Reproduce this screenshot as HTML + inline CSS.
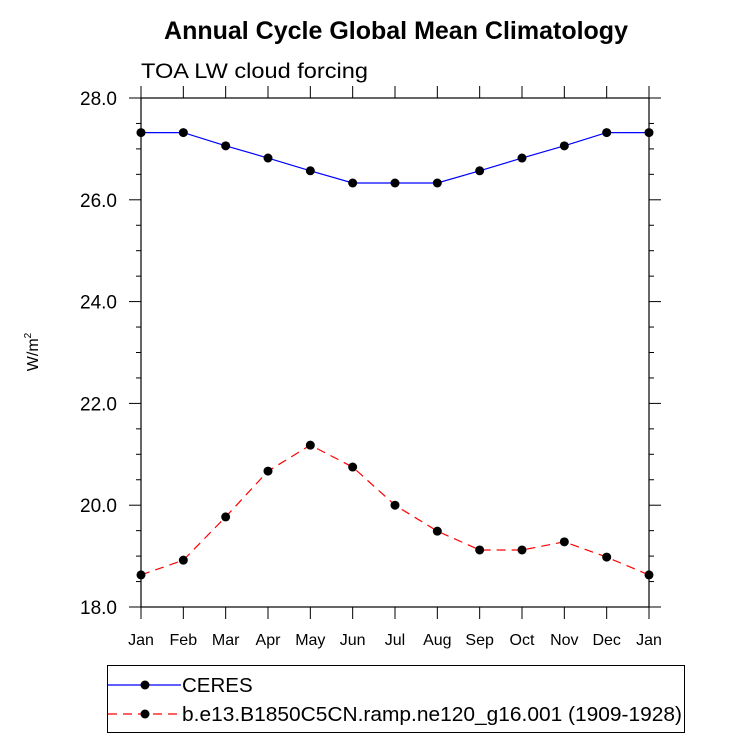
<!DOCTYPE html>
<html><head><meta charset="utf-8"><style>
body{margin:0;background:#fff;width:733px;height:739px;overflow:hidden}
svg text{font-family:"Liberation Sans",Arial,sans-serif}
</style></head><body>
<svg id="chart" width="733" height="739">
<text x="396" y="39" text-anchor="middle" font-size="25" font-weight="bold">Annual Cycle Global Mean Climatology</text>
<text x="141" y="78" font-size="21.5" textLength="227" lengthAdjust="spacingAndGlyphs">TOA LW cloud forcing</text>
<text transform="translate(38,352) rotate(-90)" text-anchor="middle" font-size="16">W/m<tspan dy="-7" font-size="10">2</tspan></text>
<g id="axes"></g>
<g id="series"></g>
<g>
<rect x="107.5" y="665.5" width="577" height="67" fill="none" stroke="#000" stroke-width="1"/>
<g>
<line x1="108" y1="685" x2="181" y2="685" stroke="#00f" stroke-width="1.2"/>
<circle cx="145" cy="685" r="4.5" fill="#000"/>
<text x="182" y="692" font-size="20.5">CERES</text></g>
<g>
<line x1="108" y1="714" x2="181" y2="714" stroke="#f00" stroke-width="1.2" stroke-dasharray="9,6"/>
<circle cx="145" cy="714" r="4.5" fill="#000"/>
<text x="182" y="721" font-size="20.5" textLength="500" lengthAdjust="spacingAndGlyphs">b.e13.B1850C5CN.ramp.ne120_g16.001 (1909-1928)</text></g>
</g>
</svg>
<script>
const months=["Jan","Feb","Mar","Apr","May","Jun","Jul","Aug","Sep","Oct","Nov","Dec","Jan"];
const ceres=[27.32,27.32,27.06,26.82,26.57,26.33,26.33,26.33,26.57,26.82,27.06,27.32,27.32];
const model=[18.63,18.92,19.77,20.67,21.18,20.75,20.0,19.49,19.12,19.12,19.28,18.98,18.63];
const yTicks=[18,20,22,24,26,28];
const X0=141,X1=649,Y0=607,Y1=98,YMIN=18,YMAX=28;
const NS="http://www.w3.org/2000/svg";
function xs(i){return X0+(X1-X0)*i/(months.length-1);}
function ys(v){return Y0-(v-YMIN)/(YMAX-YMIN)*(Y0-Y1);}
function mk(tag,attrs,parent){const e=document.createElementNS(NS,tag);for(const k in attrs)e.setAttribute(k,attrs[k]);parent.appendChild(e);return e;}
const ax=document.getElementById('axes');
const fr=mk('rect',{x:X0,y:Y1,width:X1-X0,height:Y0-Y1,fill:'none',stroke:'#000','stroke-width':1.2},ax);


months.forEach((m,i)=>{const x=xs(i);
mk('line',{x1:x,y1:Y0,x2:x,y2:Y0+12,stroke:'#000'},ax);
mk('line',{x1:x,y1:Y1,x2:x,y2:Y1-12,stroke:'#000'},ax);
const t=mk('text',{x:x,y:Y0+38,'text-anchor':'middle','font-size':16},ax);t.textContent=m;

});
for(let v=YMIN;v<=YMAX+1e-9;v+=0.5){const y=ys(v);const major=Math.abs(v-Math.round(v/2)*2)<1e-6;const L=major?12:5;
mk('line',{x1:X0-L,y1:y,x2:X0,y2:y,stroke:'#000'},ax);
mk('line',{x1:X1,y1:y,x2:X1+L,y2:y,stroke:'#000'},ax);}
yTicks.forEach(v=>{const t=mk('text',{x:X0-24,y:ys(v)+7,'text-anchor':'end','font-size':19},ax);t.textContent=v.toFixed(1);

});
const sg=document.getElementById('series');
function series(vals,color,dash,name){
const p=mk('polyline',{points:vals.map((v,i)=>xs(i)+','+ys(v)).join(' '),fill:'none',stroke:color,'stroke-width':1.2,'stroke-dasharray':dash},sg);


vals.forEach((v,i)=>{const c=mk('circle',{cx:xs(i),cy:ys(v),r:4.5,fill:'#000'},sg);

});}
series(ceres,'#00f','none','ceres');
series(model,'#f00','9,6','model');
</script>
</body></html>
